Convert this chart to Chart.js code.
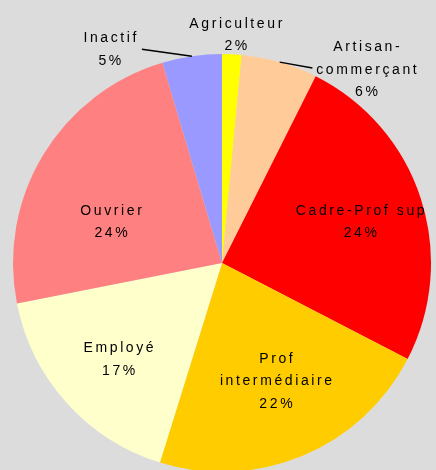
<!DOCTYPE html>
<html>
<head>
<meta charset="utf-8">
<script src="https://cdn.jsdelivr.net/npm/chart.js@4/dist/chart.umd.min.js"></script>
<style>
  html, body { margin: 0; padding: 0; background: #dcdcdc; overflow: hidden; width: 436px; height: 470px; }
  canvas { position: absolute; left: 0; top: 0; }
</style>
</head>
<body>
<canvas id="pie" width="444" height="526"></canvas>
<script>
// catégories socio-professionnelles
const categories = ['Agriculteur', 'Artisan-\ncommerçant', 'Cadre-Prof sup', 'Prof\nintermédiaire', 'Employé', 'Ouvrier', 'Inactif'];
const parts = [1.5, 5.9, 25.2, 22.2, 17.1, 23.5, 4.6];
const pctLabels = ['2%', '6%', '24%', '22%', '17%', '24%', '5%'];
const couleurs = ['#ffff00', '#ffcc99', '#ff0000', '#ffcc00', '#ffffcc', '#ff8080', '#9999ff'];

// placement des étiquettes : facteur de rayon + décalage en px
const labelK = [1.1, 1.1, 0.62, 0.62, 0.62, 0.62, 1.1];
const labelOff = [[3, 2], [81, 28], [15, -1], [4, -1], [-7, 10], [0, 26], [-79, 14]];
const leader = [false, true, false, false, false, false, true];

const etiquettes = {
    id: 'etiquettes',
    afterDatasetsDraw(chart) {
        const ctx = chart.ctx;
        const arcs = chart.getDatasetMeta(0).data;
        ctx.save();
        ctx.fillStyle = '#000';
        ctx.strokeStyle = '#000';
        ctx.font = '14px "Liberation Sans"';
        ctx.letterSpacing = '2.6px';
        ctx.textBaseline = 'middle';
        ctx.textAlign = 'left';
        arcs.forEach((arc, i) => {
            const mid = (arc.startAngle + arc.endAngle) / 2;
            const r = arc.outerRadius;
            const bx = arc.x + Math.cos(mid) * r * labelK[i] + labelOff[i][0];
            const by = arc.y + Math.sin(mid) * r * labelK[i] + labelOff[i][1];
            const lines = categories[i].split('\n').concat(pctLabels[i]);
            const lh = 22.5;
            const y0 = by - (lines.length - 1) * lh / 2;
            lines.forEach((t, j) => {
                const w = ctx.measureText(t).width - 2.6;
                ctx.fillText(t, bx - w / 2, y0 + j * lh);
            });
            if (leader[i]) {
                const ex = arc.x + Math.cos(mid) * r;
                const ey = arc.y + Math.sin(mid) * r;
                const tx = i === 1 ? bx - 54 : bx + 32;
                const ty = i === 1 ? y0 + lh - 2 : y0 + 11;
                ctx.lineWidth = 1.5;
                ctx.beginPath();
                ctx.moveTo(ex, ey);
                ctx.lineTo(tx, ty);
                ctx.stroke();
            }
        });
        ctx.restore();
    }
};

new Chart(document.getElementById('pie').getContext('2d'), {
    type: 'pie',
    data: {
        labels: categories,
        datasets: [{ data: parts, backgroundColor: couleurs, borderWidth: 0 }]
    },
    options: {
        responsive: false,
        animation: false,
        devicePixelRatio: 1,
        radius: 209,
        layout: { padding: 0 },
        plugins: { legend: { display: false }, tooltip: { enabled: false } }
    },
    plugins: [etiquettes]
});
</script>
</body>
</html>
